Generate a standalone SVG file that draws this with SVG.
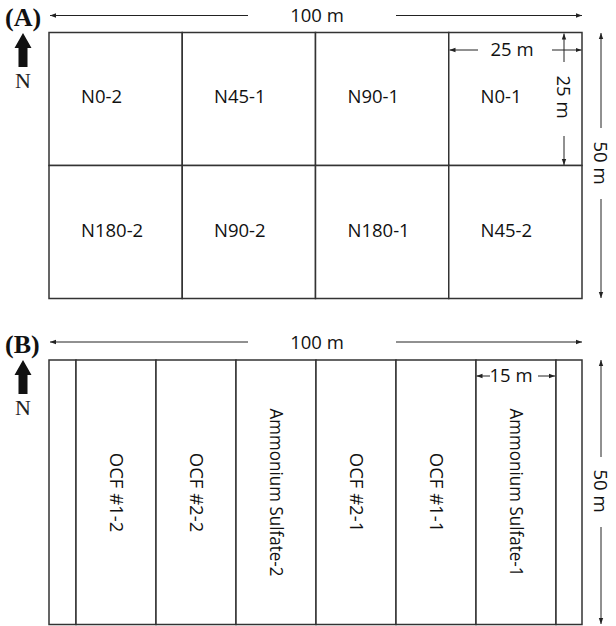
<svg xmlns="http://www.w3.org/2000/svg" width="616" height="626" viewBox="0 0 616 626">
<style>
.cell{fill:#fff;stroke:#333;stroke-width:1.5}
.lbl{font-family:"Open Sans","Liberation Sans",sans-serif;font-size:18.5px;fill:#111}
.dim{stroke:#222;stroke-width:1;fill:none}
.pl{font-family:"Liberation Serif",serif;font-weight:bold;font-size:26px;fill:#111}
.n{font-family:"Liberation Serif",serif;font-size:22px;fill:#222}
</style>
<defs>
<marker id="ah" viewBox="0 0 6 6" refX="6" refY="3" markerWidth="6" markerHeight="6" markerUnits="userSpaceOnUse" orient="auto-start-reverse">
<path d="M0,0.8 L6,3 L0,5.2 z" fill="#222"/>
</marker>
<path id="narrow" d="M0,0 L8.5,15 L4.5,15 L4.5,34 L-4.5,34 L-4.5,15 L-8.5,15 z" fill="#111"/>
</defs>

<!-- Panel A -->
<g id="panelA-label"><text class="pl" x="5" y="26">(A)</text></g>
<g id="northA"><use href="#narrow" x="23" y="33"/><text class="n" x="23" y="88" text-anchor="middle">N</text></g>
<g id="A-N0-2"><rect class="cell" x="49" y="32.5" width="133.25" height="133"/><text class="lbl" x="81" y="103">N0-2</text></g>
<g id="A-N45-1"><rect class="cell" x="182.25" y="32.5" width="133.25" height="133"/><text class="lbl" x="214" y="103">N45-1</text></g>
<g id="A-N90-1"><rect class="cell" x="315.5" y="32.5" width="133.25" height="133"/><text class="lbl" x="347.5" y="103">N90-1</text></g>
<g id="A-N0-1"><rect class="cell" x="448.75" y="32.5" width="133.25" height="133"/><text class="lbl" x="480.5" y="103">N0-1</text></g>
<g id="A-N180-2"><rect class="cell" x="49" y="165.5" width="133.25" height="133"/><text class="lbl" x="81" y="237">N180-2</text></g>
<g id="A-N90-2"><rect class="cell" x="182.25" y="165.5" width="133.25" height="133"/><text class="lbl" x="214" y="237">N90-2</text></g>
<g id="A-N180-1"><rect class="cell" x="315.5" y="165.5" width="133.25" height="133"/><text class="lbl" x="347.5" y="237">N180-1</text></g>
<g id="A-N45-2"><rect class="cell" x="448.75" y="165.5" width="133.25" height="133"/><text class="lbl" x="480.5" y="237">N45-2</text></g>

<!-- Panel B -->
<g id="panelB-label"><text class="pl" x="5" y="353">(B)</text></g>
<g id="northB"><use href="#narrow" x="23" y="360"/><text class="n" x="23" y="415" text-anchor="middle">N</text></g>
<g id="B-edge-left"><rect class="cell" x="49" y="360" width="27" height="264.5"/></g>
<g id="B-OCF1-2"><rect class="cell" x="76" y="360" width="80" height="264.5"/><text class="lbl" text-anchor="middle" transform="translate(116,492.5) rotate(90)" y="6.5">OCF #1-2</text></g>
<g id="B-OCF2-2"><rect class="cell" x="156" y="360" width="80" height="264.5"/><text class="lbl" text-anchor="middle" transform="translate(196,492.5) rotate(90)" y="6.5">OCF #2-2</text></g>
<g id="B-AS-2"><rect class="cell" x="236" y="360" width="80" height="264.5"/><text class="lbl" text-anchor="middle" transform="translate(276,492.5) rotate(90)" y="6.5" textLength="168" lengthAdjust="spacingAndGlyphs">Ammonium Sulfate-2</text></g>
<g id="B-OCF2-1"><rect class="cell" x="316" y="360" width="80" height="264.5"/><text class="lbl" text-anchor="middle" transform="translate(356,492.5) rotate(90)" y="6.5">OCF #2-1</text></g>
<g id="B-OCF1-1"><rect class="cell" x="396" y="360" width="80" height="264.5"/><text class="lbl" text-anchor="middle" transform="translate(436,492.5) rotate(90)" y="6.5">OCF #1-1</text></g>
<g id="B-AS-1"><rect class="cell" x="476" y="360" width="80" height="264.5"/><text class="lbl" text-anchor="middle" transform="translate(516,492.5) rotate(90)" y="6.5" textLength="168" lengthAdjust="spacingAndGlyphs">Ammonium Sulfate-1</text></g>
<g id="B-edge-right"><rect class="cell" x="556" y="360" width="26" height="264.5"/></g>

<!-- Dimension connectors -->
<g id="connectors">
<line class="dim" x1="248" y1="15.5" x2="50" y2="15.5" marker-end="url(#ah)"/>
<line class="dim" x1="396" y1="15.5" x2="582" y2="15.5" marker-end="url(#ah)"/>
<text class="lbl" x="317" y="22" text-anchor="middle">100 m</text>
<line class="dim" x1="478" y1="50" x2="449.5" y2="50" marker-end="url(#ah)"/>
<line class="dim" x1="552" y1="50" x2="581.5" y2="50" marker-end="url(#ah)"/>
<text class="lbl" x="512" y="56" text-anchor="middle">25 m</text>
<line class="dim" x1="564" y1="62" x2="564" y2="33.5" marker-end="url(#ah)"/>
<line class="dim" x1="564" y1="136" x2="564" y2="165" marker-end="url(#ah)"/>
<text class="lbl" text-anchor="middle" transform="translate(563,97) rotate(90)" y="6.5">25 m</text>
<line class="dim" x1="601" y1="128" x2="601" y2="33" marker-end="url(#ah)"/>
<line class="dim" x1="601" y1="199" x2="601" y2="298" marker-end="url(#ah)"/>
<text class="lbl" text-anchor="middle" transform="translate(600,163) rotate(90)" y="6.5">50 m</text>
<line class="dim" x1="248" y1="342" x2="50" y2="342" marker-end="url(#ah)"/>
<line class="dim" x1="396" y1="342" x2="582" y2="342" marker-end="url(#ah)"/>
<text class="lbl" x="317" y="348.5" text-anchor="middle">100 m</text>
<line class="dim" x1="490" y1="376" x2="476.5" y2="376" marker-end="url(#ah)"/>
<line class="dim" x1="538" y1="376" x2="555" y2="376" marker-end="url(#ah)"/>
<text class="lbl" x="511" y="382" text-anchor="middle">15 m</text>
<line class="dim" x1="601" y1="457" x2="601" y2="360" marker-end="url(#ah)"/>
<line class="dim" x1="601" y1="527" x2="601" y2="624" marker-end="url(#ah)"/>
<text class="lbl" text-anchor="middle" transform="translate(600,491) rotate(90)" y="6.5">50 m</text>
</g>
</svg>
